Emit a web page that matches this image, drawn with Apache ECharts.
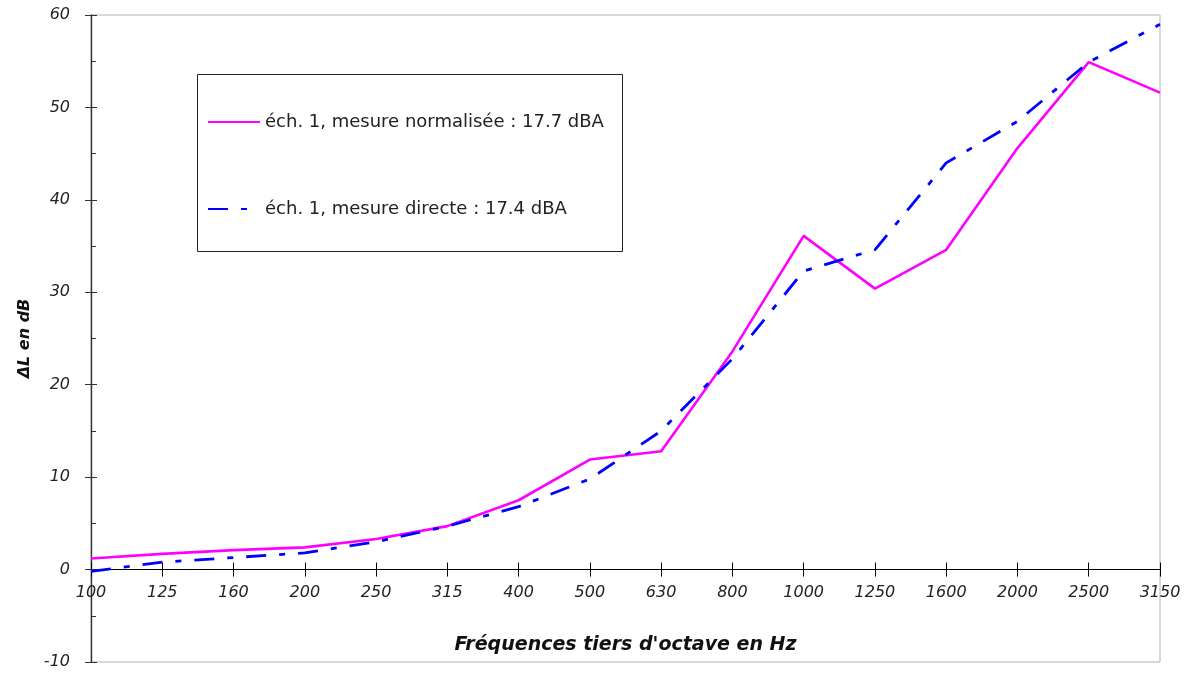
<!DOCTYPE html>
<html>
<head>
<meta charset="utf-8">
<script src="https://cdn.jsdelivr.net/npm/echarts@6/dist/echarts.min.js"></script>
<style>
html,body{margin:0;padding:0;background:#fff;}
#chart{width:1191px;height:675px;}
</style>
</head>
<body>
<div id="chart"></div>
<script>
// Third-octave band centre frequencies (Hz)
const frequencies = ['100','125','160','200','250','315','400','500','630','800','1000','1250','1600','2000','2500','3150'];
// ΔL in dB, sample 1
const normalisee = [1.2, 1.7, 2.1, 2.4, 3.3, 4.7, 7.5, 11.9, 12.8, 23.6, 36.1, 30.4, 34.6, 45.6, 54.9, 51.6];
const directe    = [-0.2, 0.8, 1.3, 1.8, 3.0, 4.7, 6.8, 9.8, 15.0, 22.8, 32.3, 34.6, 44.0, 48.5, 54.9, 59.0];
const yTicks = { min: -10, max: 60, step: 10 };

const FONT = 'DejaVu Sans';
const W = 1191, H = 675;
const GRID = { left: 91, right: 31, top: 15, bottom: 13 };

// the horizontal axis sits on the y = 0 line: lift it from the grid bottom
const plotH = H - GRID.top - GRID.bottom;
const zeroLift = -plotH * (0 - yTicks.min) / (yTicks.max - yTicks.min);

const chart = echarts.init(document.getElementById('chart'));

const baseX = {
  type: 'category',
  data: frequencies,
  boundaryGap: false,
  position: 'bottom',
  offset: zeroLift,
  axisLine: { show: true, onZero: false, lineStyle: { color: '#000', width: 1.2 } },
  splitLine: { show: false }
};
const baseY = {
  type: 'value',
  min: yTicks.min, max: yTicks.max, interval: yTicks.step,
  position: 'left',
  splitLine: { show: false },
  axisLine: { show: true, lineStyle: { color: '#333', width: 1.2 } }
};

chart.setOption({
  animation: false,
  backgroundColor: '#fff',
  grid: Object.assign({}, GRID, {
    containLabel: false, outerBoundsMode: 'none',
    show: true, borderColor: '#b0b0b0', borderWidth: 1
  }),
  graphic: [{
    type: 'rect',
    shape: { x: 197.5, y: 74.5, width: 425, height: 177 },
    style: { fill: '#fff', stroke: '#222', lineWidth: 1 },
    z: 50
  }],
  legend: {
    orient: 'vertical',
    left: 207, top: 113,
    itemWidth: 52, itemHeight: 14, itemGap: 69,
    padding: 0,
    z: 60,
    itemStyle: { opacity: 0 },
    textStyle: { fontFamily: FONT, fontSize: 18, color: '#222', lineHeight: 14 },
    data: ['éch. 1, mesure normalisée : 17.7 dBA', 'éch. 1, mesure directe : 17.4 dBA']
  },
  xAxis: [
    Object.assign({}, baseX, {
      name: "Fréquences tiers d'octave en Hz",
      nameLocation: 'middle', nameGap: 66,
      nameTextStyle: { fontFamily: FONT, fontSize: 19, fontStyle: 'italic', fontWeight: 'bold', color: '#111' },
      axisTick: { show: true, inside: false, length: 7, lineStyle: { color: '#000' } },
      axisLabel: { show: true, fontFamily: FONT, fontSize: 16, fontStyle: 'italic', color: '#222', margin: 15, interval: 0 }
    }),
    Object.assign({}, baseX, {
      axisTick: { show: true, inside: true, length: 7, lineStyle: { color: '#000' } },
      axisLabel: { show: false }
    })
  ],
  yAxis: [
    Object.assign({}, baseY, {
      name: 'ΔL en dB',
      nameLocation: 'middle', nameGap: 52, nameRotate: 90,
      nameTextStyle: { fontFamily: FONT, fontSize: 16, fontStyle: 'italic', fontWeight: 'bold', color: '#111' },
      axisTick: { show: true, inside: false, length: 6, lineStyle: { color: '#333' } },
      axisLabel: { fontFamily: FONT, fontSize: 16, fontStyle: 'italic', color: '#222', margin: 21 }
    }),
    Object.assign({}, baseY, {
      axisTick: { show: true, inside: true, length: 6, lineStyle: { color: '#333' } },
      minorTick: { show: true, splitNumber: 2, length: 5, lineStyle: { color: '#333' } },
      axisLabel: { show: false }
    })
  ],
  series: [
    {
      name: 'éch. 1, mesure normalisée : 17.7 dBA',
      type: 'line',
      data: normalisee,
      symbol: 'none',
      color: '#ff00ff',
      lineStyle: { color: '#ff00ff', width: 2.6 },
      z: 3
    },
    {
      name: 'éch. 1, mesure directe : 17.4 dBA',
      type: 'line',
      data: directe,
      symbol: 'none',
      color: '#0000ff',
      lineStyle: { color: '#0000ff', width: 2.8, type: [20, 13, 6, 13] },
      z: 4
    }
  ]
});
</script>
</body>
</html>
